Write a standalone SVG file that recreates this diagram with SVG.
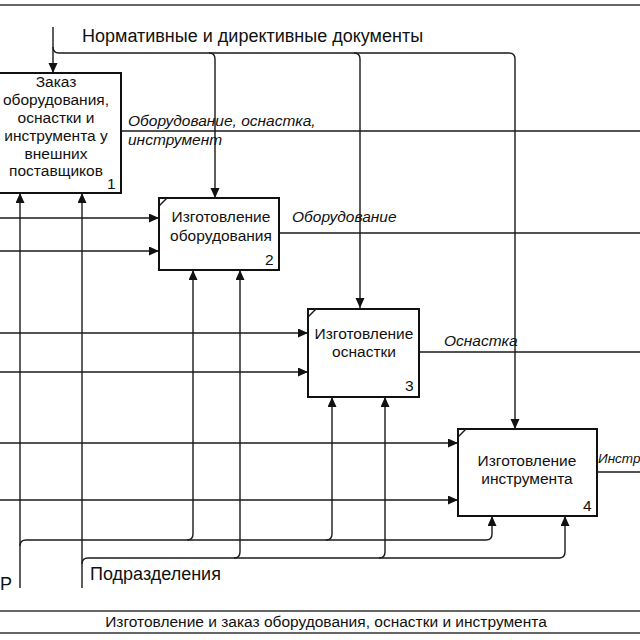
<svg xmlns="http://www.w3.org/2000/svg" width="640" height="640" viewBox="0 0 640 640">
<style>
.ln{fill:none;stroke:#1a1a1a;stroke-width:1.4}
.ar{fill:none;stroke:#1a1a1a;stroke-width:1.4;marker-end:url(#ah)}
.box{fill:#fff;stroke:#111;stroke-width:2}
.t{font-family:"Liberation Sans",Arial,sans-serif;font-size:15.5px;fill:#111;text-anchor:middle}
.n{font-family:"Liberation Sans",Arial,sans-serif;font-size:15.5px;fill:#111}
.lb{font-family:"Liberation Sans",Arial,sans-serif;font-size:15.5px;font-style:italic;fill:#111}
.big{font-family:"Liberation Sans",Arial,sans-serif;font-size:18px;fill:#111}
.frame{stroke:#333;stroke-width:1.5;fill:none}
</style>
<defs>
<marker id="ah" markerWidth="12" markerHeight="12" refX="10" refY="4.5" orient="auto" markerUnits="userSpaceOnUse">
<path d="M0,0 L10,4.5 L0,9 Z" fill="#111"/>
</marker>
</defs>
<rect width="640" height="640" fill="#fff"/>
<g id="frame">
<line class="frame" x1="0" y1="5" x2="640" y2="5"/>
<line class="frame" x1="0" y1="611" x2="640" y2="611"/>
<line class="frame" x1="0" y1="633" x2="640" y2="633"/>
<text class="n" x="326" y="627" text-anchor="middle">Изготовление и заказ оборудования, оснастки и инструмента</text>
</g>
<g id="connectors">
<!-- control -->
<path class="ar" d="M53,27 V73"/>
<path class="ar" d="M53,47 Q53,53 59,53 H509 Q515,53 515,59 V429"/>
<path class="ar" d="M209,53 Q215,53 215,59 V198"/>
<path class="ar" d="M354,53 Q360,53 360,59 V308"/>
<text class="big" x="82" y="42">Нормативные и директивные документы</text>
<!-- outputs -->
<path class="ln" d="M121,131 H640"/>
<text class="lb" x="128" y="126">Оборудование, оснастка,</text>
<text class="lb" x="128" y="145">инструмент</text>
<path class="ln" d="M279,233 H640"/>
<text class="lb" x="292" y="222">Оборудование</text>
<path class="ln" d="M419,352 H640"/>
<text class="lb" x="444" y="346">Оснастка</text>
<path class="ln" d="M597,472 H640"/>
<text class="lb" x="598" y="463" style="font-size:13.5px">Инстр</text>
<!-- inputs -->
<path class="ar" d="M0,218 H159"/>
<path class="ar" d="M0,251 H159"/>
<path class="ar" d="M0,333 H308"/>
<path class="ar" d="M0,372 H308"/>
<path class="ar" d="M0,443 H458"/>
<path class="ar" d="M0,500 H458"/>
<!-- mechanism 1 -->
<path class="ar" d="M20,588 V193"/>
<path class="ar" d="M20,546 Q20,540 26,540 H486 Q492,540 492,534 V516"/>
<path class="ar" d="M187,540 Q193,540 193,534 V270"/>
<path class="ar" d="M326,540 Q332,540 332,534 V397"/>
<text class="big" x="0" y="590">Р</text>
<!-- mechanism 2 -->
<path class="ar" d="M82,588 V193"/>
<path class="ar" d="M82,564 Q82,558 88,558 H559 Q565,558 565,552 V516"/>
<path class="ar" d="M234,558 Q240,558 240,552 V270"/>
<path class="ar" d="M379,558 Q385,558 385,552 V397"/>
<text class="big" x="90" y="580">Подразделения</text>
</g>
<g id="node1">
<rect class="box" x="-8" y="73" width="129" height="120"/>
<text class="t" x="56" y="87">Заказ</text>
<text class="t" x="56" y="105">оборудования,</text>
<text class="t" x="56" y="123">оснастки и</text>
<text class="t" x="56" y="141">инструмента у</text>
<text class="t" x="56" y="159">внешних</text>
<text class="t" x="56" y="176">поставщиков</text>
<text class="n" x="107" y="189">1</text>
</g>
<g id="node2">
<rect class="box" x="159" y="198" width="120" height="72"/>
<line class="ln" x1="159" y1="206" x2="167" y2="198"/>
<text class="t" x="221" y="222">Изготовление</text>
<text class="t" x="221" y="241">оборудования</text>
<text class="n" x="265" y="265">2</text>
</g>
<g id="node3">
<rect class="box" x="308" y="309" width="111" height="88"/>
<line class="ln" x1="308" y1="317" x2="316" y2="309"/>
<text class="t" x="364" y="339">Изготовление</text>
<text class="t" x="364" y="357">оснастки</text>
<text class="n" x="405" y="391">3</text>
</g>
<g id="node4">
<rect class="box" x="458" y="429" width="139" height="87"/>
<line class="ln" x1="458" y1="437" x2="466" y2="429"/>
<text class="t" x="527" y="466">Изготовление</text>
<text class="t" x="527" y="484">инструмента</text>
<text class="n" x="583" y="511">4</text>
</g>
</svg>
